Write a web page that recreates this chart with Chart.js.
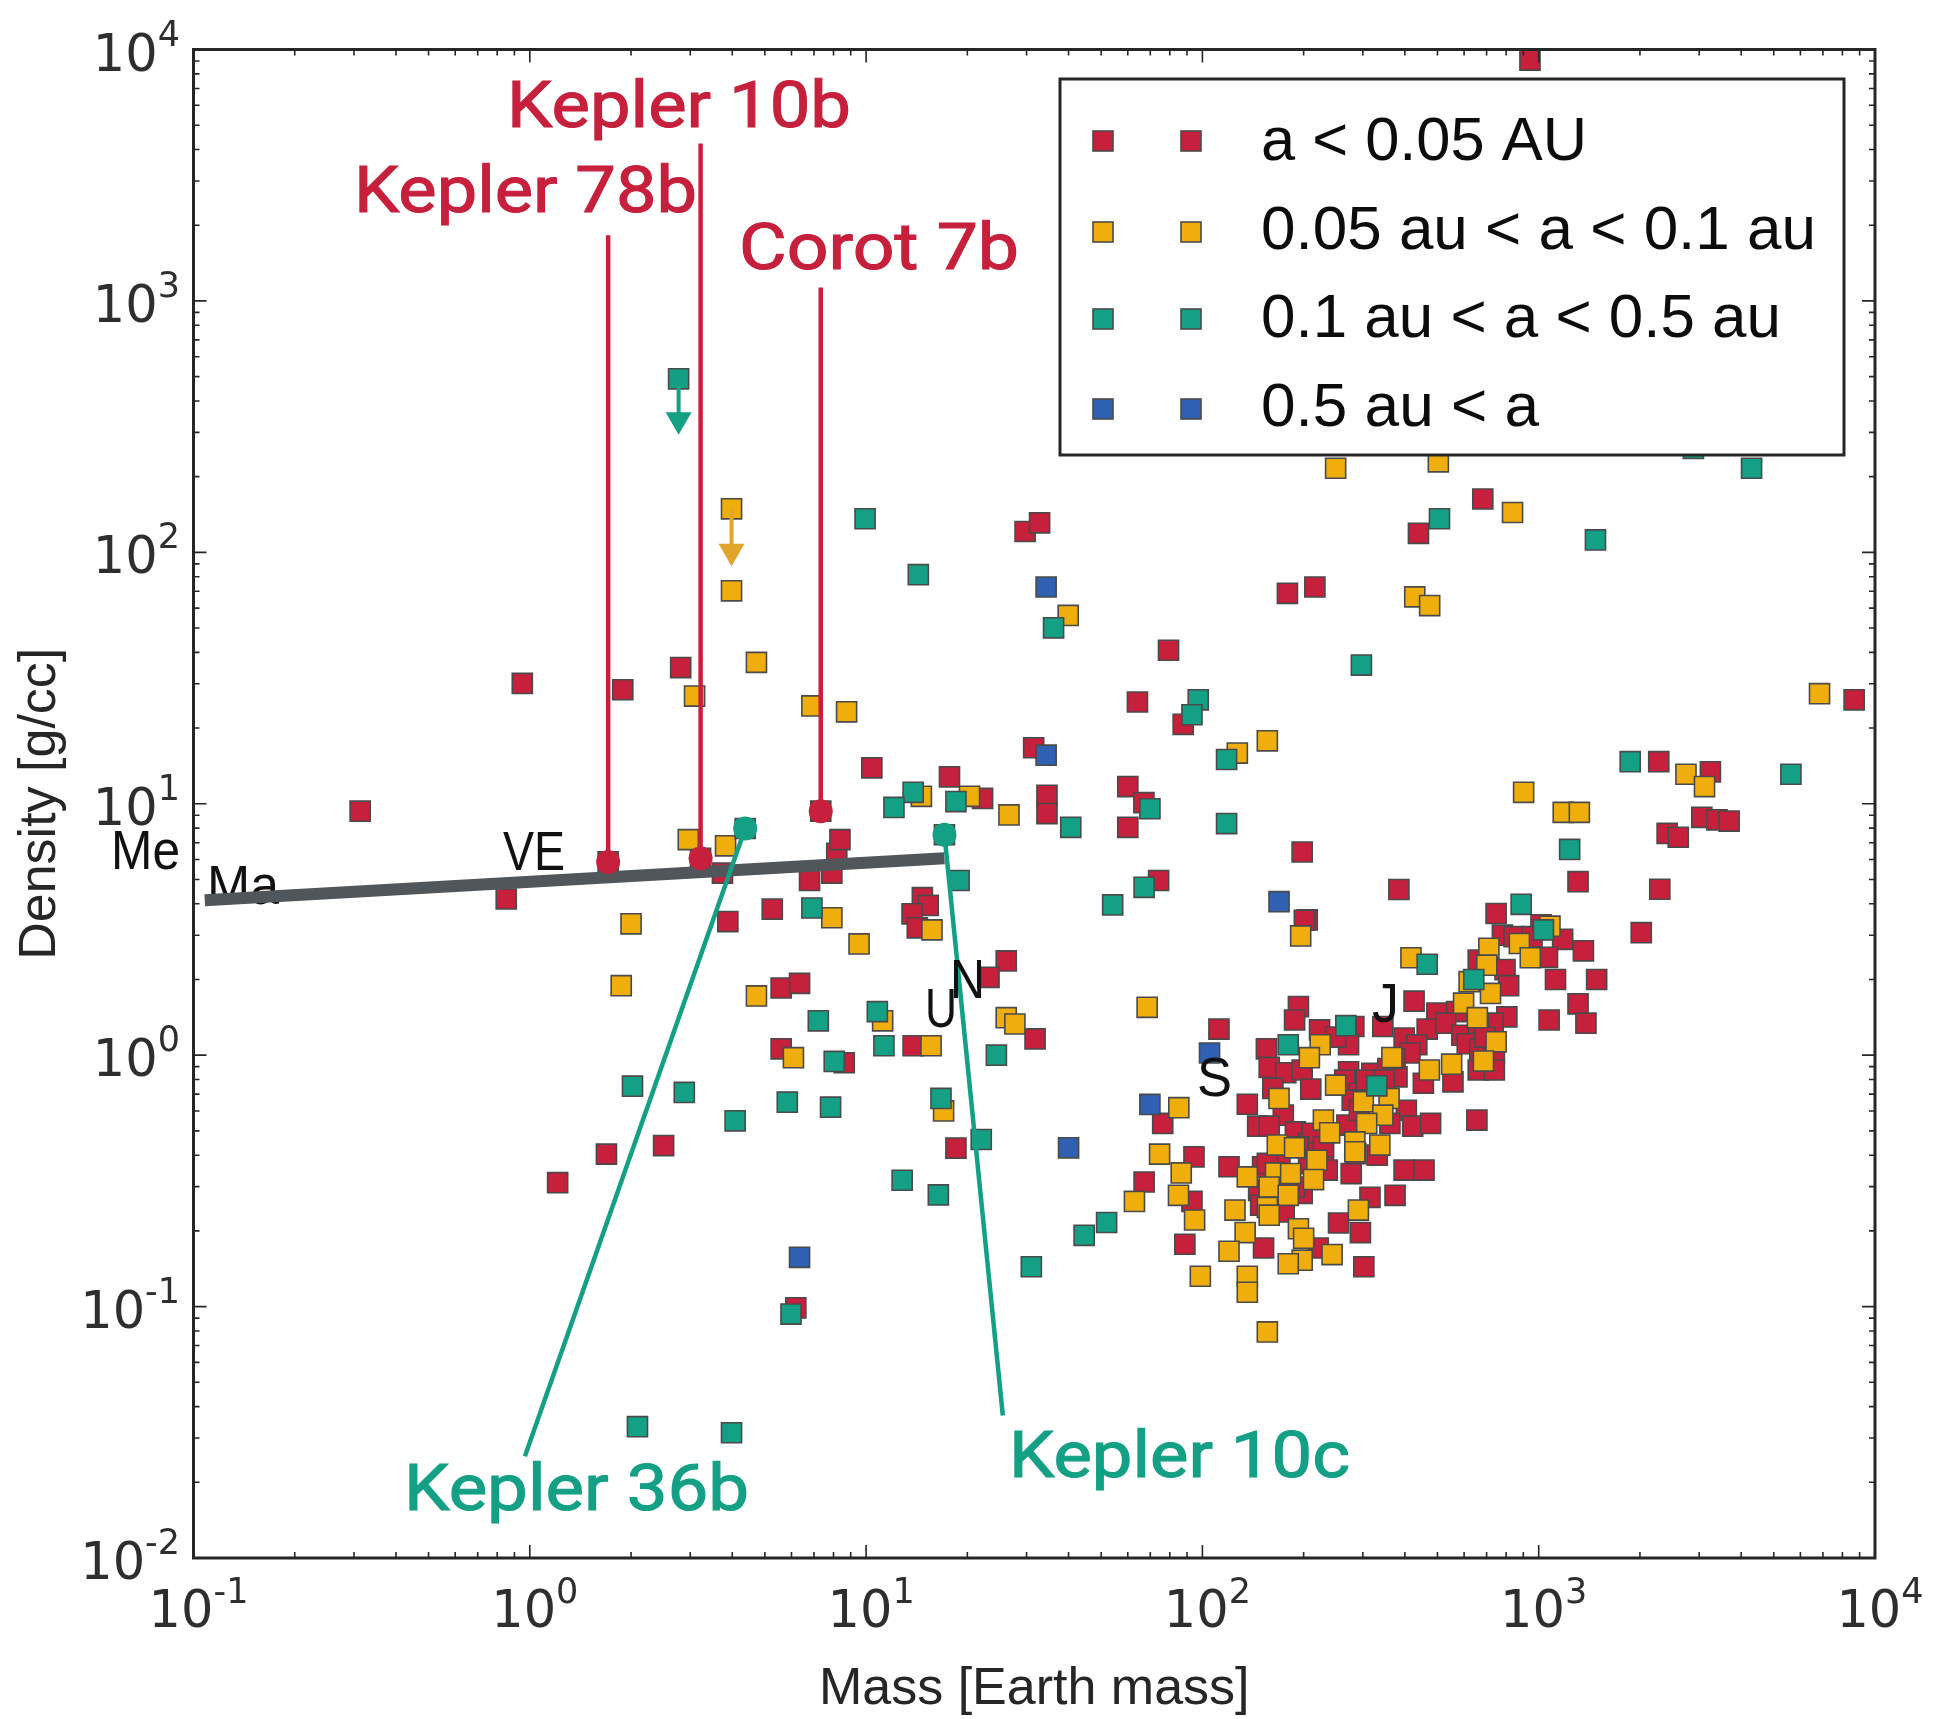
<!DOCTYPE html>
<html>
<head>
<meta charset="utf-8">
<title>Density vs mass</title>
<script src="https://cdn.jsdelivr.net/npm/chart.js@4"></script>
<style>
    html, body { margin: 0; padding: 0; background: #fff; }
    canvas { display: block; }
</style>
</head>
<body>
<canvas id="massDensity" width="1941" height="1719"></canvas>
<script>
// a < 0.05 AU
const redMass = [
    384, 1309, 205, 747, 780, 1016, 1178, 1358, 1122, 1487,
    1309, 1382, 1074, 1062, 661, 794, 814, 804, 732, 426,
    498, 570, 466, 529, 591, 193, 188, 223, 282, 344,
    112, 155, 272, 249, 398, 434, 613, 668, 738, 158,
    177, 198, 272, 319, 356, 379, 661, 738, 454, 556,
    162, 210, 265, 293, 136, 174, 404, 76.2, 146, 158,
    189, 218, 269, 361, 422, 477, 655, 94.4, 120, 151,
    229, 235, 277, 398, 456, 67.1, 147, 198, 315, 374,
    93.1, 149, 175, 254, 295, 88.7, 152, 221, 302, 286,
    331, 170, 207, 414, 374, 307, 279, 293, 348, 212,
    229, 193, 156, 207, 170, 188, 661, 692, 845, 955,
    0.313, 0.95, 1.89, 2.81, 0.851, 3.88, 3.74, 5.26, 5.59, 6.34,
    5.59, 6.79, 7.91, 8.18, 8.36, 7.33, 10.4, 17.7, 22.2, 31.5,
    34.5, 34.5, 14.7, 15.3, 13.7, 14.2, 26.1, 23.2, 13.8, 8.61,
    31.8, 18.5, 1.69, 1.21, 2.5, 6.18, 1.71, 3.22, 942, 682,
    439, 29.7, 32.8, 179, 216, 79.3, 64.1, 87.7, 8670, 2275,
    3240, 2410, 2600, 3055, 3388, 3683, 2291, 2018, 60, 67,
    60, 74.1, 198, 201
];
const redDensity = [
    4.56, 4.9, 3.45, 3.66, 3.0, 3.3, 2.89, 2.6, 2.0, 2.0,
    1.6, 1.34, 1.38, 2.45, 2.39, 2.19, 1.89, 1.42, 1.34, 1.64,
    1.47, 1.49, 1.27, 1.34, 1.2, 1.56, 1.38, 1.26, 1.3, 1.3,
    1.27, 1.06, 1.1, 1.18, 1.17, 1.1, 1.11, 1.06, 1.02, 0.894,
    0.851, 0.873, 0.859, 0.846, 0.885, 0.82, 0.873, 0.873, 0.773, 0.783,
    0.738, 0.733, 0.796, 0.705, 0.638, 0.577, 0.604, 0.535, 0.522, 0.522,
    0.495, 0.459, 0.527, 0.535, 0.522, 0.535, 0.552, 0.394, 0.36, 0.36,
    0.406, 0.349, 0.338, 0.349, 0.349, 0.313, 0.29, 0.282, 0.272, 0.277,
    0.262, 0.253, 0.238, 0.215, 0.197, 0.177, 0.171, 0.171, 0.144, 0.406,
    0.4, 0.371, 0.445, 1.02, 0.97, 0.796, 0.662, 0.604, 0.796, 0.489,
    0.432, 0.432, 0.371, 0.371, 0.29, 0.299, 1.34, 1.18, 2.96, 2.96,
    9.34, 30.1, 28.4, 34.8, 4.18, 3.4, 5.3, 3.81, 1.85, 1.93,
    1.06, 4.95, 5.3, 6.35, 7.2, 9.34, 13.9, 12.8, 10.5, 16.7,
    10.8, 9.14, 4.23, 3.94, 3.65, 3.21, 2.37, 2.04, 1.09, 0.933,
    1.16, 0.427, 0.404, 0.311, 0.437, 0.0989, 5.87, 6.07, 9080, 163,
    119, 121, 131, 68.7, 72.8, 40.8, 25.4, 20.7, 25.9, 14.7,
    13.4, 7.62, 7.36, 8.83, 8.63, 8.53, 4.57, 3.07, 11.7, 10.1,
    8.06, 4.95, 6.43, 3.44
];

// 0.05 au < a < 0.1 au
const yellowMass = [
    196, 68.5, 417, 711, 701, 876, 944, 1080, 598, 621,
    719, 657, 747, 685, 551, 473, 366, 224, 208, 249,
    169, 301, 359, 85.1, 344, 229, 308, 239, 167, 188,
    284, 337, 284, 74.6, 219, 86.5, 165, 136, 183, 214,
    158, 84.9, 180, 62.8, 125, 156, 158, 291, 94.8, 193,
    134, 200, 120, 243, 198, 180, 98.6, 136, 136, 156,
    3.98, 3.98, 4.72, 3.09, 6.9, 8.75, 39.9, 428, 474, 249,
    503, 836, 6840, 2741, 3112, 902, 1183, 1321, 156, 127,
    26.6, 20.3, 14.6, 2.96, 3.82, 2.0, 1.87, 4.72, 6.08, 9.53,
    7.91, 15.7, 11.2, 15.6, 26.1, 27.7, 17
];
const yellowDensity = [
    2.98, 1.55, 2.44, 2.66, 2.28, 2.78, 2.44, 3.26, 1.61, 1.96,
    1.76, 1.41, 1.13, 0.947, 0.921, 0.873, 0.979, 1.1, 0.977, 0.76,
    0.673, 0.653, 0.673, 0.618, 0.577, 0.552, 0.535, 0.491, 0.439, 0.428,
    0.452, 0.439, 0.413, 0.404, 0.382, 0.34, 0.34, 0.328, 0.338, 0.32,
    0.299, 0.277, 0.277, 0.262, 0.242, 0.248, 0.231, 0.242, 0.221, 0.204,
    0.197, 0.187, 0.166, 0.161, 0.153, 0.148, 0.132, 0.132, 0.114, 0.0793,
    149, 70.3, 36.5, 26.8, 24.5, 23.2, 56.1, 66.5, 61.4, 216,
    229, 144, 27.4, 13.1, 11.7, 11.1, 9.24, 9.24, 17.8, 15.9,
    9.03, 10.7, 10.7, 7.2, 6.8, 3.33, 1.89, 1.72, 0.977, 2.77,
    3.52, 3.15, 1.37, 1.09, 1.41, 1.33, 0.6
];

// 0.1 au < a < 0.5 au
const tealMass = [
    67.1, 54.1, 887, 1033, 466, 641, 267, 180, 330, 51.9,
    44.5, 2.77, 9.93, 14.3, 36.1, 297, 507, 1475, 4295, 2884,
    97.2, 93.1, 118, 118, 69.8, 1871, 5623, 1236, 4.37, 17.1,
    18.5, 13.8, 12.1, 40.6, 18.9, 6.9, 10.8, 7.21, 11.3, 8.04,
    24.4, 2.02, 2.88, 4.08, 5.83, 7.84, 16.7, 22, 12.8, 16.4,
    31, 5.98, 2.09, 3.98
];
const tealDensity = [
    4.65, 3.96, 3.98, 3.15, 2.3, 2.0, 1.31, 1.1, 0.755, 0.216,
    0.192, 490, 136, 81.5, 50.1, 35.6, 136, 112, 216, 259,
    25.9, 22.6, 15, 8.34, 9.55, 14.7, 13.1, 6.58, 7.97, 7.53,
    10.2, 11.1, 9.67, 8.06, 4.95, 3.85, 1.49, 1.37, 1.09, 0.944,
    1.0, 0.753, 0.711, 0.548, 0.65, 0.621, 0.673, 0.462, 0.318, 0.278,
    0.144, 0.0934, 0.0333, 0.0315
];

// 0.5 au < a
const blueMass = [169, 105, 69.8, 40, 34.3, 34.3, 6.34];
const blueDensity = [4.08, 1.02, 0.637, 0.428, 72.8, 15.6, 0.157];

// grey band, Mars to Neptune-ish
const bandMass = [0.108, 17.1];
const bandDensity = [4.13, 6.07];

// callouts: [planet mass, planet density, label end mass, label end density]
const kepler78b = [1.71, 5.87, 1.71, 1824];
const kepler10b = [3.22, 6.07, 3.22, 4227];
const corot7b = [7.33, 9.34, 7.33, 1132];
const kepler36b = [4.37, 7.97, 0.967, 0.0254];
const kepler10c = [17.1, 7.53, 25.5, 0.0369];

// upper limit arrows: mass, top density, shaft end, arrow head
const tealArrow = [2.77, 490, 352, 337];
const yellowArrow = [3.98, 149, 106, 101];

const xTickExponents = [-1, 0, 1, 2, 3, 4];
const yTickExponents = [-2, -1, 0, 1, 2, 3, 4];
const seriesLabels = ['a < 0.05 AU', '0.05 au < a < 0.1 au', '0.1 au < a < 0.5 au', '0.5 au < a'];

const RED = '#c6203d';
const YELLOW = '#efae0b';
const TEAL = '#13a085';
const BLUE = '#2f60b2';
const seriesColors = [RED, YELLOW, TEAL, BLUE];
const INK = '#262626';

function pairs(xs, ys) {
    return xs.map((x, i) => ({ x: x, y: ys[i] }));
}

function squares(label, xs, ys, color, order) {
    return {
        label: label,
        data: pairs(xs, ys),
        backgroundColor: color,
        borderColor: '#4a4a4a',
        borderWidth: 1.6,
        pointStyle: 'rect',
        pointRadius: 14.2,
        order: order
    };
}

function callout(c, color) {
    return {
        data: [{ x: c[0], y: c[1] }, { x: c[2], y: c[3] }],
        showLine: true,
        borderColor: color,
        borderWidth: 4.5,
        pointRadius: [12, 0],
        pointStyle: 'circle',
        pointBackgroundColor: color,
        pointBorderWidth: 0,
        order: 0
    };
}

function arrow(a, color) {
    return {
        data: [{ x: a[0], y: a[1] }, { x: a[0], y: a[2] }, { x: a[0], y: a[3] }],
        showLine: true,
        borderColor: color,
        borderWidth: 4,
        pointStyle: 'triangle',
        rotation: 180,
        pointRadius: [0, 0, 15],
        pointBackgroundColor: color,
        pointBorderWidth: 0,
        order: 0
    };
}

// text placed on the figure: [text, left, baseline, width]
const calloutText = [
    ['Kepler 10b', 507, 127, 344, RED],
    ['Kepler 78b', 354, 212, 343, RED],
    ['Corot 7b', 739, 269, 280, RED],
    ['Kepler 36b', 404, 1510, 345, TEAL],
    ['Kepler 10c', 1009, 1477, 341, TEAL]
];
const planetText = [
    ['Me', 111, 869, 69],
    ['VE', 503, 870, 62],
    ['U', 925, 1027, 32],
    ['N', 950, 998, 35],
    ['J', 1372, 1022, 27],
    ['S', 1197, 1096, 35]
];
const legendRows = [141, 232, 319, 409];
const legendBaselines = [160, 249, 337, 426];
const legendWidths = [326, 555, 520, 278];

// squeeze or stretch a string to the width it has in the figure
function fitText(ctx, text, x, y, width, outline) {
    const natural = ctx.measureText(text).width;
    ctx.save();
    ctx.translate(x, y);
    ctx.scale(width / natural, 1);
    ctx.fillText(text, 0, 0);
    if (outline) {
        ctx.strokeStyle = ctx.fillStyle;
        ctx.lineWidth = outline;
        ctx.strokeText(text, 0, 0);
    }
    ctx.restore();
}

const figure = {
    id: 'figure',
    beforeDatasetsDraw(chart) {
        const ctx = chart.ctx;
        ctx.save();
        ctx.fillStyle = '#111';
        ctx.font = '56px "Liberation Sans"';
        fitText(ctx, 'Ma', 207, 904, 72);
        ctx.restore();
    },
    afterDatasetsDraw(chart) {
        const ctx = chart.ctx;
        const { left, right, top, bottom } = chart.chartArea;
        const xs = chart.scales.x;
        const ys = chart.scales.y;
        ctx.save();

        // planets
        ctx.fillStyle = '#111';
        ctx.font = '56px "Liberation Sans"';
        planetText.forEach(t => fitText(ctx, t[0], t[1], t[2], t[3]));

        // callout names, regular weight thickened a little
        ctx.font = '400 65px Roboto';
        calloutText.forEach(t => {
            ctx.fillStyle = t[4];
            fitText(ctx, t[0], t[1], t[2], t[3], 1.1);
        });

        // matplotlib style inward ticks on all four sides
        ctx.strokeStyle = INK;
        ctx.lineWidth = 1.6;
        ctx.beginPath();
        xTickExponents.forEach(e => {
            for (let k = 1; k < 10; k++) {
                const v = k * Math.pow(10, e);
                if (v > 10000) continue;
                const px = xs.getPixelForValue(v);
                const len = k === 1 ? 13 : 6;
                ctx.moveTo(px, bottom); ctx.lineTo(px, bottom - len);
                ctx.moveTo(px, top); ctx.lineTo(px, top + len);
            }
        });
        yTickExponents.forEach(e => {
            for (let k = 1; k < 10; k++) {
                const v = k * Math.pow(10, e);
                if (v > 10000) continue;
                const py = ys.getPixelForValue(v);
                const len = k === 1 ? 13 : 6;
                ctx.moveTo(left, py); ctx.lineTo(left + len, py);
                ctx.moveTo(right, py); ctx.lineTo(right - len, py);
            }
        });
        ctx.stroke();

        // frame
        ctx.lineWidth = 3;
        ctx.strokeRect(left, top, right - left, bottom - top);

        // tick labels, 10 with a raised exponent
        ctx.fillStyle = '#2e2e2e';
        xTickExponents.forEach(e => {
            const px = xs.getPixelForValue(Math.pow(10, e));
            ctx.font = '51px "DejaVu Sans"';
            const w10 = ctx.measureText('10').width;
            ctx.font = '35px "DejaVu Sans"';
            const wExp = ctx.measureText(String(e)).width;
            const start = px + 5 - (w10 + wExp) / 2;
            ctx.font = '51px "DejaVu Sans"';
            ctx.fillText('10', start, 1627);
            ctx.font = '35px "DejaVu Sans"';
            ctx.fillText(String(e), start + w10, 1603);
        });
        yTickExponents.forEach(e => {
            const py = ys.getPixelForValue(Math.pow(10, e));
            ctx.font = '35px "DejaVu Sans"';
            const wExp = ctx.measureText(String(e)).width;
            ctx.fillText(String(e), 180 - wExp, py - 4);
            ctx.font = '51px "DejaVu Sans"';
            const w10 = ctx.measureText('10').width;
            ctx.fillText('10', 180 - wExp - w10, py + 21);
        });

        // legend, two markers per row like numpoints=2
        ctx.fillStyle = '#fff';
        ctx.fillRect(1060, 79, 784, 376);
        ctx.lineWidth = 3;
        ctx.strokeStyle = INK;
        ctx.strokeRect(1060, 79, 784, 376);
        seriesLabels.forEach((label, i) => {
            [1103, 1191].forEach(mx => {
                ctx.fillStyle = seriesColors[i];
                ctx.strokeStyle = '#4a4a4a';
                ctx.lineWidth = 1.6;
                ctx.fillRect(mx - 10, legendRows[i] - 10, 20, 20);
                ctx.strokeRect(mx - 10, legendRows[i] - 10, 20, 20);
            });
            ctx.fillStyle = '#0c0c0c';
            ctx.font = '62px "Liberation Sans"';
            fitText(ctx, label, 1261, legendBaselines[i], legendWidths[i]);
        });
        ctx.restore();
    }
};

new Chart(document.getElementById('massDensity').getContext('2d'), {
    type: 'scatter',
    data: {
        datasets: [
            squares(seriesLabels[0], redMass, redDensity, RED, 5),
            squares(seriesLabels[1], yellowMass, yellowDensity, YELLOW, 4),
            squares(seriesLabels[2], tealMass, tealDensity, TEAL, 3),
            squares(seriesLabels[3], blueMass, blueDensity, BLUE, 2),
            {
                data: pairs(bandMass, bandDensity),
                showLine: true,
                borderColor: '#51565b',
                borderWidth: 12,
                pointRadius: 0,
                order: 1
            },
            callout(kepler78b, RED),
            callout(kepler10b, RED),
            callout(corot7b, RED),
            callout(kepler36b, TEAL),
            callout(kepler10c, TEAL),
            arrow(tealArrow, TEAL),
            arrow(yellowArrow, '#e2a52b')
        ]
    },
    plugins: [figure],
    options: {
        responsive: false,
        animation: false,
        devicePixelRatio: 1,
        layout: { padding: { top: 49.5, right: 66, left: 0, bottom: 0 } },
        plugins: { legend: { display: false }, tooltip: { enabled: false } },
        scales: {
            x: {
                type: 'logarithmic',
                min: 0.1,
                max: 10000,
                afterFit: s => { s.height = 161; },
                grid: { display: false },
                border: { display: false },
                ticks: { display: false },
                title: {
                    display: true,
                    text: 'Mass [Earth mass]',
                    color: INK,
                    font: { family: '"Liberation Sans"', size: 52, lineHeight: 1 },
                    padding: { top: 0, bottom: 3 }
                }
            },
            y: {
                type: 'logarithmic',
                min: 0.01,
                max: 10000,
                afterFit: s => { s.width = 193.5; },
                grid: { display: false },
                border: { display: false },
                ticks: { display: false },
                title: {
                    display: true,
                    text: 'Density [g/cc]',
                    color: INK,
                    font: { family: '"Liberation Sans"', size: 52, lineHeight: 1 },
                    padding: { top: 15, bottom: 0 }
                }
            }
        }
    }
});
</script>
</body>
</html>
